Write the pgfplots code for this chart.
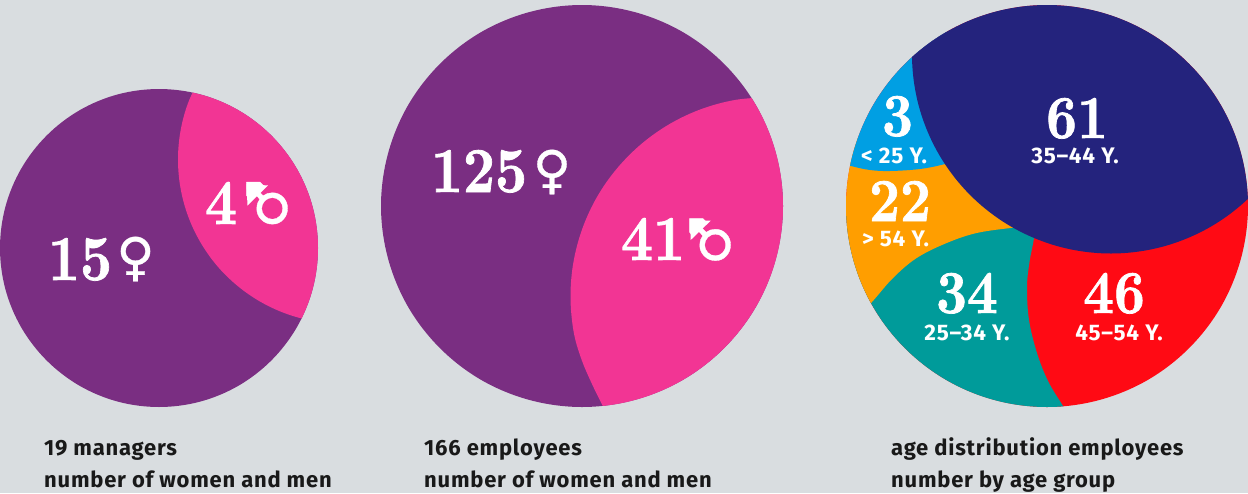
\documentclass[border=0pt]{standalone}
\usepackage{fontspec}
\usepackage{graphicx}
\usepackage{pgfplots}
\pgfplotsset{compat=1.18}
\newfontfamily\lab[LetterSpace=3.5]{Fira Sans}
\newfontfamily\sym[FakeBold=0.6]{DejaVu Sans}
\newfontfamily\numf[Extension=.otf,FakeBold=1.2]{lmroman10-bold}
\definecolor{bg}{HTML}{D9DDE0}
\definecolor{cpurple}{HTML}{7A2E82}
\definecolor{cpink}{HTML}{F23594}
\definecolor{csky}{HTML}{009FE3}
\definecolor{corange}{HTML}{FF9E00}
\definecolor{cteal}{HTML}{009B9A}
\definecolor{cred}{HTML}{FF0A14}
\definecolor{cnavy}{HTML}{24237D}
\newcommand{\numA}[1]{\scalebox{0.87}[1]{\fontsize{64}{64}\selectfont\numf #1}}
\newcommand{\numB}[1]{\scalebox{0.88}[1]{\fontsize{61}{61}\selectfont\numf #1}}
\tikzset{
  agelab/.style={white, anchor=base, font=\lab\bfseries\fontsize{22.5}{22.5}\selectfont, inner sep=0pt},
  captext/.style={black!90, anchor=base west, font=\lab\bfseries\fontsize{22}{22}\selectfont, inner sep=0pt},
  signf/.style={white, font=\sym\fontsize{52}{52}\selectfont},
  signm/.style={white, font=\sym\fontsize{56}{56}\selectfont, rotate=90},
}
\begin{document}
\begin{tikzpicture}
\begin{axis}[
    x=1pt, y=1pt,
    xmin=0, xmax=1248, ymin=0, ymax=493,
    y dir=reverse,
    hide axis,
    scale only axis,
    every axis plot/.append style={draw=none, smooth, tension=0.6},
]
% background
\addplot[fill=bg, sharp plot] coordinates {(0,0)(1248,0)(1248,493)(0,493)} -- cycle;

% managers
\addplot[fill=cpurple, smooth cycle] coordinates {(318,248)(312.6,289.2)(296.7,327.5)(271.4,360.4)(238.5,385.7)(200.2,401.6)(159,407)(117.8,401.6)(79.5,385.7)(46.6,360.4)(21.3,327.5)(5.4,289.2)(0,248)(5.4,206.8)(21.3,168.5)(46.6,135.6)(79.5,110.3)(117.8,94.4)(159,89)(200.2,94.4)(238.5,110.3)(271.4,135.6)(296.7,168.5)(312.6,206.8)};
\begin{scope}
\clip (axis cs:159,248) circle [radius=159];
\addplot[fill=cpink] coordinates {(200,77.5)(187.9,103.4)(180.5,131)(178,159.5)(180.5,188)(187.9,215.6)(200,241.5)(216.4,265)(236.6,285.1)(260,301.5)(285.9,313.6)(313.5,321)(342,323.5)(400,323)(400,70)} -- cycle;
\end{scope}

% employees
\addplot[fill=cpurple, smooth cycle] coordinates {(783,206)(776.1,258)(756.1,306.5)(724.1,348.1)(682.5,380.1)(634,400.1)(582,407)(530,400.1)(481.5,380.1)(439.9,348.1)(407.9,306.5)(387.9,258)(381,206)(387.9,154)(407.9,105.5)(439.9,63.9)(481.5,31.9)(530,11.9)(582,5)(634,11.9)(682.5,31.9)(724.1,63.9)(756.1,105.5)(776.1,154)};
\begin{scope}
\clip (axis cs:582,206) circle [radius=201];
\addplot[fill=cpink] coordinates {(770,97)(735.4,99.9)(701.8,108.9)(670.3,123.6)(641.8,143.6)(617.2,168.2)(597.2,196.6)(582.5,228.2)(573.5,261.8)(570.5,296.4)(573.5,331)(581,358)(592,384)(606,412)(622,440)(800,445)(830,97)} -- cycle;
\end{scope}

% age groups
\addplot[fill=cred, smooth cycle] coordinates {(1248,206)(1241.1,258)(1221.1,306.5)(1189.1,348.1)(1147.5,380.1)(1099,400.1)(1047,407)(995,400.1)(946.5,380.1)(904.9,348.1)(872.9,306.5)(852.9,258)(846,206)(852.9,154)(872.9,105.5)(904.9,63.9)(946.5,31.9)(995,11.9)(1047,5)(1099,11.9)(1147.5,31.9)(1189.1,63.9)(1221.1,105.5)(1241.1,154)};
\begin{scope}
\clip (axis cs:1047,206) circle [radius=201];
\addplot[fill=cteal] coordinates {(1036,215)(1034,238)(1029.5,262)(1027,287)(1029,320)(1037,353)(1048,381)(1063,406)(1078,430)(830,430)(830,215)} -- cycle;
\addplot[fill=corange] coordinates {(850,325)(871.7,302.3)(893,278)(916.7,258)(946.7,243)(976.7,233)(1013,227.7)(1040,225)(1040,150)(830,150)(830,325)} -- cycle;
\addplot[fill=csky] coordinates {(830,160)(851,166)(870,170)(890,171)(920,169)(945,164)(975,155)(980,40)(830,40)} -- cycle;
\addplot[fill=cnavy] coordinates {(1303.2,106)(1283.3,154)(1251.7,195.2)(1210.5,226.8)(1162.5,246.7)(1111,253.5)(1059.5,246.7)(1011.5,226.8)(970.3,195.2)(938.7,154)(918.8,106)(912,54.5)(918.8,3)(918,-20)(1303,-20)} -- cycle;
\end{scope}

% numbers
\node[white, anchor=base] at (axis cs:80,280) {\numA{15}};
\node[white, anchor=base] at (axis cs:221,224) {\numA{4}};
\node[white, anchor=base] at (axis cs:479,192) {\numA{125}};
\node[white, anchor=base] at (axis cs:653,260) {\numA{41}};
\node[white, anchor=base] at (axis cs:897.5,136) {\numB{3}};
\node[white, anchor=base] at (axis cs:900,221) {\numB{22}};
\node[white, anchor=base] at (axis cs:1077,138) {\numB{61}};
\node[white, anchor=base] at (axis cs:967,313) {\numB{34}};
\node[white, anchor=base] at (axis cs:1114,313) {\numB{46}};

% gender signs
\node[signf] at (axis cs:135.5,259) {♀};
\node[signf] at (axis cs:552,172) {♀};
\node[signm] at (axis cs:267,203.5) {♂};
\node[signm] at (axis cs:710,240) {♂};
\addplot[fill=white, sharp plot] coordinates {(246.5,184)(268,185.5)(247.5,205.5)} -- cycle;
\addplot[fill=white, sharp plot] coordinates {(690,220)(710.7,220.7)(690.7,240)} -- cycle;

% age labels
\node[agelab] at (axis cs:894,163) {< 25 Y.};
\node[agelab] at (axis cs:895.5,246) {> 54 Y.};
\node[agelab] at (axis cs:1075,163) {35–44 Y.};
\node[agelab] at (axis cs:967,340) {25–34 Y.};
\node[agelab] at (axis cs:1119,340) {45–54 Y.};

% captions
\node[captext] at (axis cs:44,455) {19 managers};
\node[captext] at (axis cs:44,487) {number of women and men};
\node[captext] at (axis cs:424,455) {166 employees};
\node[captext] at (axis cs:424,487) {number of women and men};
\node[captext] at (axis cs:891,455) {age distribution employees};
\node[captext] at (axis cs:891,487) {number by age group};
\end{axis}
\end{tikzpicture}
\end{document}
